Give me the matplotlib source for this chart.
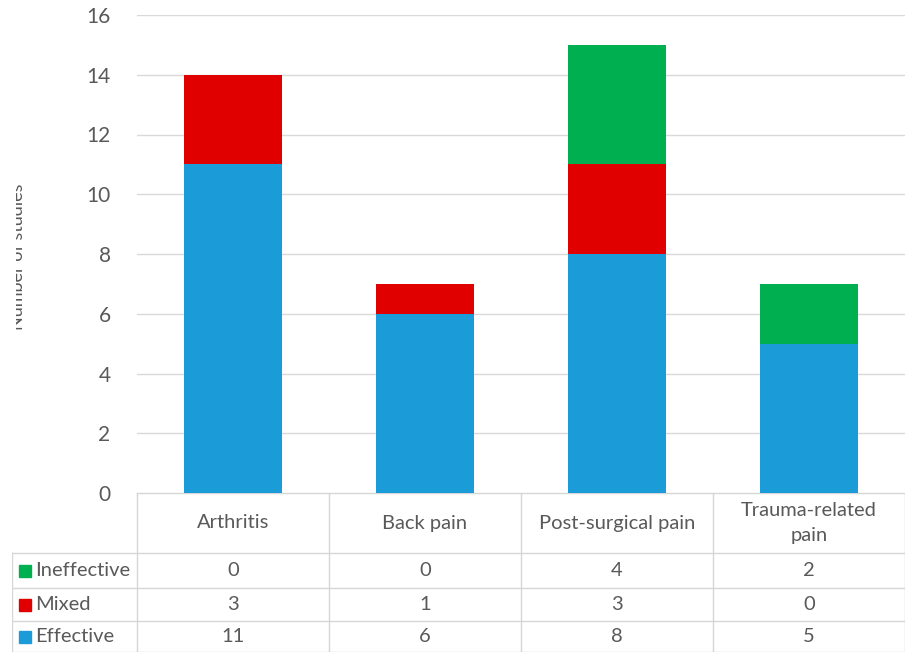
import numpy as np
import matplotlib.pyplot as plt
from matplotlib.transforms import Bbox

categories = ['Arthritis', 'Back pain', 'Post-surgical pain', 'Trauma-related\npain']
series = ['Ineffective', 'Mixed', 'Effective']
effective = [11, 6, 8, 5]
mixed = [3, 1, 3, 0]
ineffective = [0, 0, 4, 2]
colors = {'Effective': '#1b9bd7', 'Mixed': '#e00000', 'Ineffective': '#00b050'}
yticks = [0, 2, 4, 6, 8, 10, 12, 14, 16]

W, H = 910, 656
plt.rcParams['font.family'] = ['Lato', 'DejaVu Sans']
txt = '#595959'
grid = '#d9d9d9'
fs = 14.5

fig = plt.figure(figsize=(W / 100, H / 100), dpi=100)

# bar area
ax = fig.add_axes([137 / W, (H - 493) / H, 768 / W, 478 / H])
x = np.arange(len(categories)) + 0.5
bw = 0.51
ax.bar(x, effective, bw, color=colors['Effective'], zorder=3)
ax.bar(x, mixed, bw, bottom=effective, color=colors['Mixed'], zorder=3)
ax.bar(x, ineffective, bw, bottom=np.add(effective, mixed), color=colors['Ineffective'], zorder=3)
ax.set_xlim(0, len(categories))
ax.set_ylim(0, 16)
ax.set_yticks(yticks)
ax.set_xticks([])
ax.yaxis.grid(True, color=grid, lw=1, zorder=0)
for s in ax.spines.values():
    s.set_visible(False)
ax.tick_params(axis='y', length=0, pad=19, labelsize=15, labelcolor=txt)

# y label, cut off by the left edge
lab = fig.text(18 / W, (H - 257) / H, 'Number of studies', rotation=90, ha='center', va='center',
               fontsize=13, color=txt)
lab.set_clip_box(Bbox([[16, 0], [W, H]]))
lab.set_clip_on(True)

# data table under the bars
tax = fig.add_axes([12 / W, (H - 652) / H, 893 / W, 159 / H])
left = -125 / 192
tax.set_xlim(left, len(categories))
tax.set_ylim(0, 159)
tax.axis('off')
lc = '#d6d6d6'
rows = [0, 31, 64, 99, 159]
# horizontal rules
tax.plot([left, 4], [0, 0], color=lc, lw=1)
for r in rows[1:4]:
    tax.plot([left, 4], [r, r], color=lc, lw=1)
tax.plot([0, 4], [159, 159], color=lc, lw=1)
# vertical rules
tax.plot([left, left], [0, 99], color=lc, lw=1)
for c in range(len(categories) + 1):
    tax.plot([c, c], [0, 159], color=lc, lw=1)

for i, cat in enumerate(categories):
    tax.text(i + 0.5, 129, cat, ha='center', va='center', fontsize=fs, color=txt,
             linespacing=1.5)

values = {'Ineffective': ineffective, 'Mixed': mixed, 'Effective': effective}
for k, name in enumerate(series):
    yc = (rows[3 - k] + rows[2 - k]) / 2
    tax.plot([left + 0.068], [yc], 's', color=colors[name], ms=8.5)
    tax.text(left + 0.122, yc, name, ha='left', va='center', fontsize=fs, color=txt)
    for i, v in enumerate(values[name]):
        tax.text(i + 0.5, yc, str(v), ha='center', va='center', fontsize=fs, color=txt)

fig.savefig('out.png', dpi=100)
